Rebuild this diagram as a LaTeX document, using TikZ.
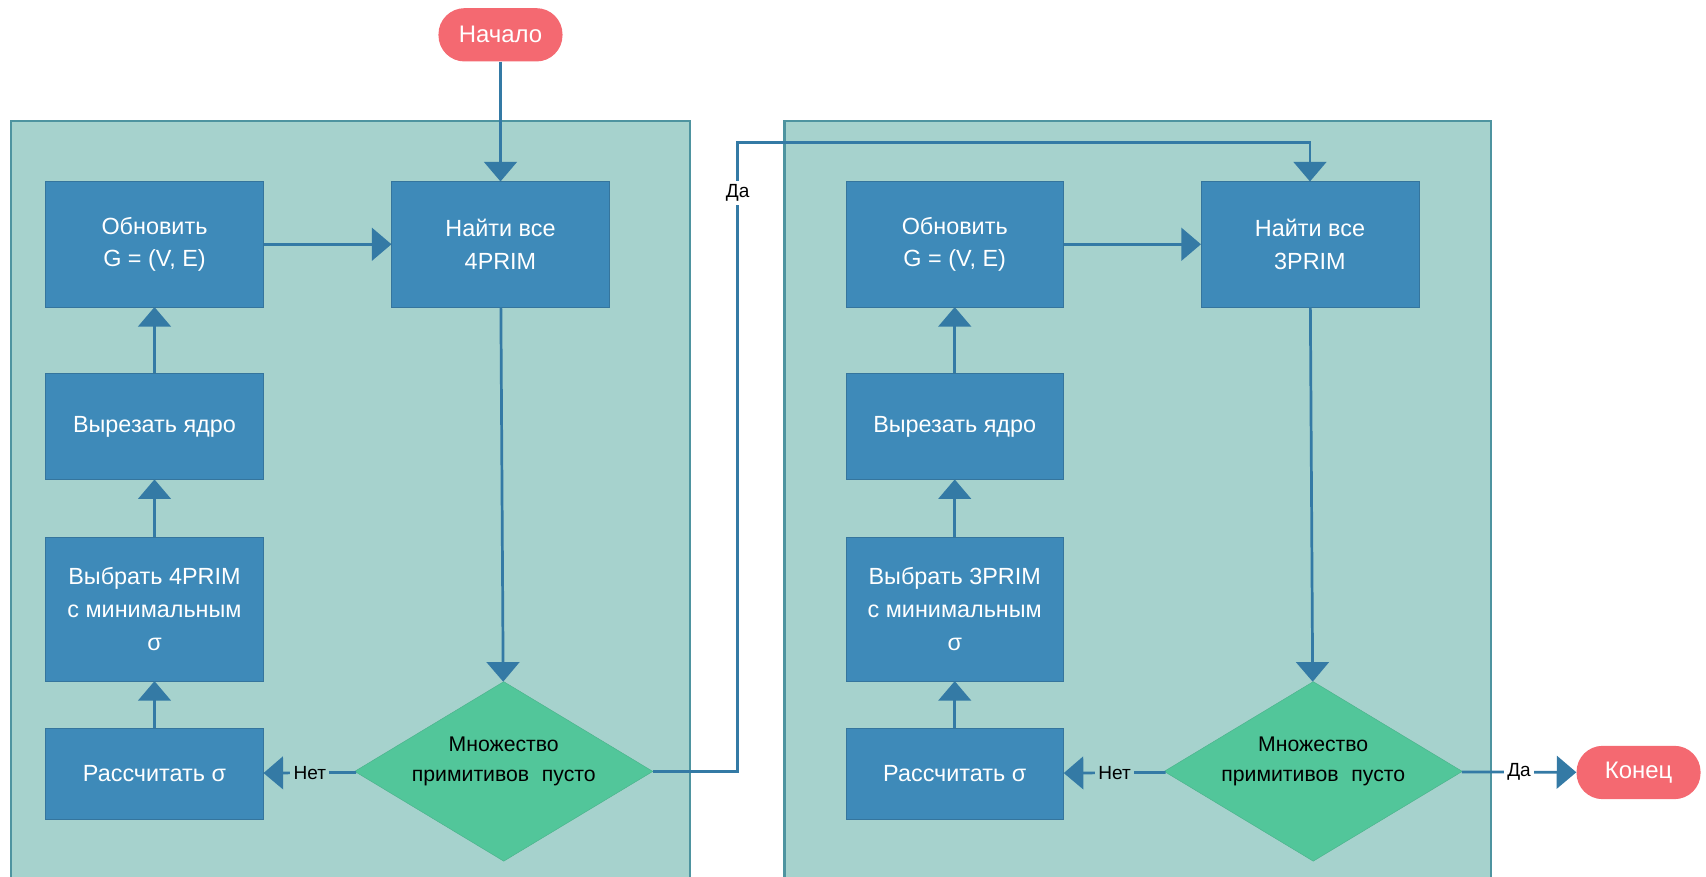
\documentclass[tikz,border=0pt]{standalone}
\usepackage{fontspec}
\setmainfont{Liberation Sans}
\usetikzlibrary{arrows.meta,positioning,shapes.geometric}
\definecolor{boxblue}{RGB}{62,138,185}
\definecolor{linkblue}{RGB}{52,122,165}
\definecolor{contfill}{RGB}{166,210,205}
\definecolor{contdraw}{RGB}{78,148,160}
\definecolor{decgreen}{RGB}{82,198,154}
\definecolor{termred}{RGB}{244,105,113}
\tikzset{FC style/.style={>={Triangle[width=30pt,length=18pt]}},
	FC box/.style={rectangle,fill=boxblue,draw=boxblue!85!black,text=white,minimum width=200pt,align=center,font=\fontsize{21.5}{30}\selectfont},
	FC dec/.style={diamond,aspect=1.66,fill=decgreen,draw=decgreen!90!black,minimum width=270pt,minimum height=163pt,inner sep=0pt,align=center,font=\fontsize{19.5}{28}\selectfont},
	FC term/.style={rectangle,rounded corners=24pt,fill=termred,text=white,minimum width=114pt,minimum height=49pt,font=\fontsize{22}{24}\selectfont},
	FC cont/.style={fill=contfill,draw=contdraw,line width=2pt},
	FC link/.style={->,color=linkblue,line width=2.5pt,every edge/.append style={->,color=linkblue,line width=2.5pt}},
	FC lbl/.style={text=black,inner sep=3pt,font=\fontsize{17.5}{18}\selectfont}}

\begin{document}
\begin{tikzpicture}[x=1pt,y=1pt,FC style]
	\useasboundingbox (0,0) rectangle (1568,-806);
	% containers
	\draw[FC cont] (10,-111) rectangle (634,-820);
	\draw[FC cont] (721,-111) rectangle (1370,-820);
	
	\node[FC term] (s) at (460,-32) {Начало};
	
	% first pass
	\node[FC box,minimum height=115pt] (f1) at (460,-224.5) {Найти все\\4PRIM};
	\node[FC box,minimum height=115pt] (u1) at (142,-224.5) {Обновить\\G = (V, E)};
	\node[FC box,minimum height=97pt] [below=61pt of u1] (k1) {Вырезать ядро};
	\node[FC box,minimum height=132pt] [below=53pt of k1] (c1) {Выбрать 4PRIM\\с минимальным\\σ};
	\node[FC box,minimum height=84pt] [below=43pt of c1] (r1) {Рассчитать σ};
	\node[FC dec] (d1) at (463,-709) {Множество\\примитивов\hspace{0.6em}пусто\\[-6pt]\mbox{}};
	
	% second pass
	\node[FC box,minimum height=115pt] (f2) at (1204,-224.5) {Найти все\\3PRIM};
	\node[FC box,minimum height=115pt] (u2) at (877.5,-224.5) {Обновить\\G = (V, E)};
	\node[FC box,minimum height=97pt] [below=61pt of u2] (k2) {Вырезать ядро};
	\node[FC box,minimum height=132pt] [below=53pt of k2] (c2) {Выбрать 3PRIM\\с минимальным\\σ};
	\node[FC box,minimum height=84pt] [below=43pt of c2] (r2) {Рассчитать σ};
	\node[FC dec] (d2) at (1207,-709) {Множество\\примитивов\hspace{0.6em}пусто\\[-6pt]\mbox{}};
	
	\node[FC term] (e) at (1506,-710) {Конец};
	\coordinate (t) at (678,-131);
	
	\path[FC link]
	(s) edge (f1)
	(u1) edge (f1)
	(f1) edge (d1)
	(d1) edge node[FC lbl,fill=contfill] {Нет} (r1)
	(r1) edge (c1)
	(c1) edge (k1)
	(k1) edge (u1)
	;
	
	\draw[FC link] (d1.east) -| node[FC lbl,fill=white,pos=0.96] {Да} (t) -| (f2.north);
	
	\path[FC link]
	(u2) edge (f2)
	(f2) edge (d2)
	(d2) edge node[FC lbl,fill=contfill] {Нет} (r2)
	(r2) edge (c2)
	(c2) edge (k2)
	(k2) edge (u2)
	(d2) edge node[FC lbl,fill=white] {Да} (e)
	;
\end{tikzpicture}
\end{document}
